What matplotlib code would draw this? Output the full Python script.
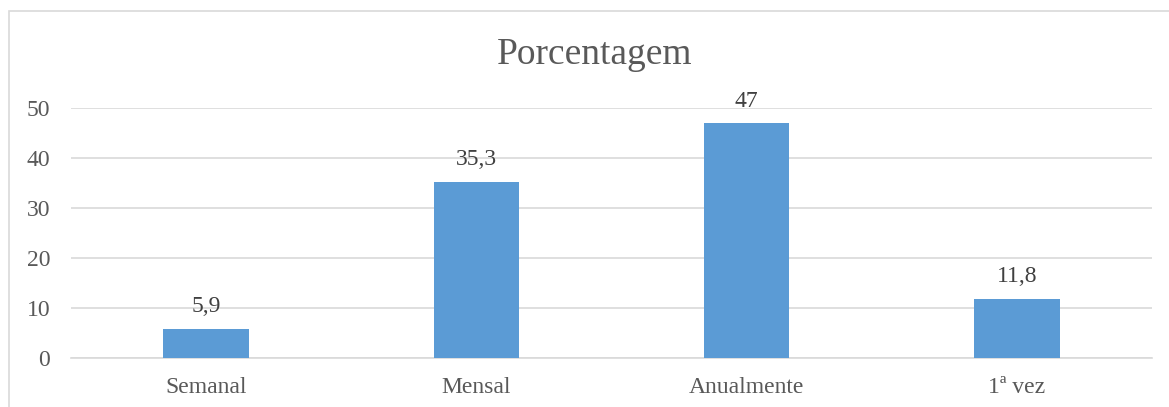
import matplotlib.pyplot as plt
from matplotlib.patches import Rectangle

# data
categories = ["Semanal", "Mensal", "Anualmente", "1ª vez"]
values = [5.9, 35.3, 47, 11.8]
value_labels = ["5,9", "35,3", "47", "11,8"]
yticks = [0, 10, 20, 30, 40, 50]

plt.rcParams['font.family'] = ['Liberation Serif', 'DejaVu Serif']

fig = plt.figure(figsize=(11.69, 4.07), dpi=100)

# outer chart border (light gray, cut off at right/bottom)
fig.patches.append(Rectangle((9 / 1169, -0.01), 1.02, 1 - 11 / 407 + 0.01,
                             transform=fig.transFigure, fill=False,
                             edgecolor='#D9D9D9', linewidth=1.2))

ax = fig.add_axes([71 / 1169, 1 - 358 / 407, 1081 / 1169, 250 / 407])
x = range(len(categories))
bars = ax.bar(x, values, width=0.317, color='#5B9BD5', zorder=3)

for b, lab in zip(bars, value_labels):
    ax.text(b.get_x() + b.get_width() / 2, b.get_height() + 3.3, lab,
            ha='center', va='baseline', fontsize=17, color='#404040')

ax.set_xlim(-0.5, len(categories) - 0.5)
ax.set_ylim(0, 50)
ax.set_yticks(yticks)
ax.set_yticklabels([str(t) for t in yticks])
ax.set_xticks(list(x))
ax.set_xticklabels(categories)
ax.tick_params(axis='both', length=0, labelsize=17, labelcolor='#595959')
ax.tick_params(axis='y', pad=15)
ax.tick_params(axis='x', pad=14)
ax.grid(axis='y', color='#D9D9D9', linewidth=1.2, zorder=0)
for s in ['top', 'right', 'left']:
    ax.spines[s].set_visible(False)
ax.spines['bottom'].set_color('#D9D9D9')
ax.spines['bottom'].set_linewidth(1.2)

fig.text(595 / 1169, 1 - 55 / 407, "Porcentagem", ha='center', va='center',
         fontsize=27, color='#595959')

fig.savefig("out.png", dpi=100)
